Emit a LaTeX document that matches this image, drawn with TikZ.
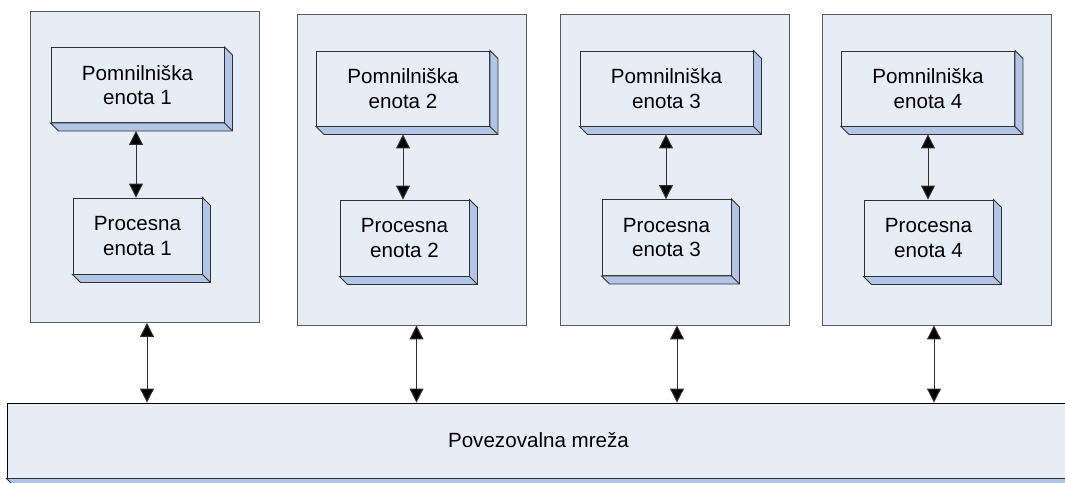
\documentclass[tikz,border=0pt]{standalone}
\usepackage{fontspec}
\setmainfont{Liberation Sans}
\usetikzlibrary{arrows.meta,calc}

\definecolor{facefill}{HTML}{E7EDF7}
\definecolor{sidefill}{HTML}{B2C5E6}
\definecolor{framegray}{HTML}{5A5A5A}
\definecolor{edgegray}{HTML}{303030}

\tikzset{
  frame/.style={draw=framegray, line width=0.9pt, fill=facefill, minimum width=229pt, minimum height=311pt, inner sep=0pt},
  unitbox/.style={draw=edgegray, line width=0.9pt, fill=facefill, inner sep=0pt, align=center,
    font=\fontsize{20.6pt}{24.7pt}\selectfont},
  membox/.style={unitbox, minimum width=173pt, minimum height=75pt},
  procbox/.style={unitbox, minimum width=129pt, minimum height=76pt},
  netbox/.style={unitbox, draw=black, minimum width=1063pt, minimum height=75pt},
  tip/.tip={Triangle[length=14pt,width=14pt,fill=black]},
  link/.style={draw=edgegray, line width=1pt, tip-tip},
}

% bevelled right/bottom side of a raised box
\newcommand\bevel[2][8]{%
  \filldraw[fill=sidefill, draw=edgegray, line width=0.9pt, line join=miter]
    (#2.north east) -- ++(#1pt,-#1pt) -- ($(#2.south east)+(#1pt,-#1pt)$)
    -- ($(#2.south west)+(#1pt,-#1pt)$) -- (#2.south west) -- (#2.south east) -- cycle;
  \draw[edgegray, line width=0.9pt] (#2.south east) -- ++(#1pt,-#1pt);
}

\begin{document}
\begin{tikzpicture}[x=1pt,y=-1pt]
\useasboundingbox (0,0) rectangle (1065,482);
\fill[white] (0,0) rectangle (1065,482);

% processing nodes
\node[frame] (o1) at (144.5,167) {};
\node[frame] (o2) at (412,169.5) {};
\node[frame] (o3) at (674.5,169.5) {};
\node[frame] (o4) at (936.5,169.5) {};

% memory units
\node[membox] (m1) at (137.5,85)  {Pomnilniška\\enota 1};
\node[membox] (m2) at (403,88.5)  {Pomnilniška\\enota 2};
\node[membox] (m3) at (666.5,88.5) {Pomnilniška\\enota 3};
\node[membox] (m4) at (928,88.5)  {Pomnilniška\\enota 4};
\foreach \n in {m1,m2,m3,m4} {\bevel{\n}}

% processing units
\node[procbox] (p1) at (137.5,236) {Procesna\\enota 1};
\node[procbox] (p2) at (404.5,238) {Procesna\\enota 2};
\node[procbox] (p3) at (666.5,237.5) {Procesna\\enota 3};
\node[procbox] (p4) at (928.5,238) {Procesna\\enota 4};
\foreach \n in {p1,p2,p3,p4} {\bevel{\n}}

% interconnection network
\node[netbox] (net) at (538.5,440.5) {Povezovalna mreža};
\bevel{net}

% memory <-> processor
\foreach \m/\p/\dx in {m1/p1/-1.5, m2/p2/0, m3/p3/-0.5, m4/p4/0} {
  \draw[link] ([xshift=\dx pt, yshift=-8pt]\m.south) -- ([xshift=\dx pt]\m.south |- \p.north);
}

% node <-> network
\foreach \o/\dx in {o1/2.5, o2/4.5, o3/2.5, o4/-2.5} {
  \draw[link] ([xshift=\dx pt]\o.south) -- ([xshift=\dx pt]\o.south |- net.north);
}
\end{tikzpicture}
\end{document}
